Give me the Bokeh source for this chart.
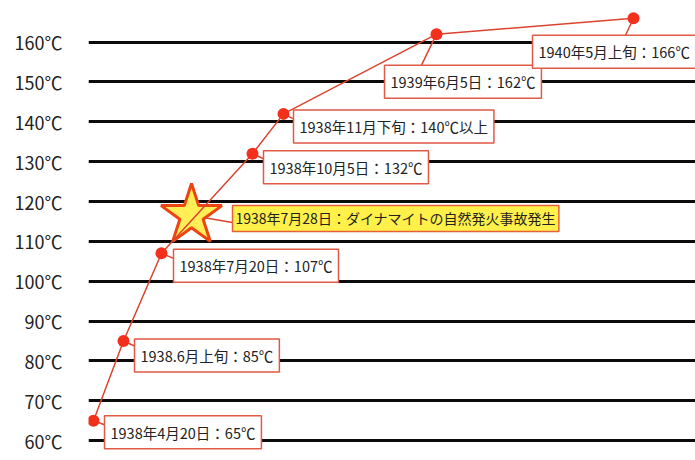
from bokeh.plotting import figure
from bokeh.models import Range1d, FixedTicker, ColumnDataSource
from bokeh.core.properties import value
from bokeh.embed import file_html
from bokeh.resources import INLINE

# ---- data ----
labels = [
    "1938年4月20日：65℃",
    "1938.6月上旬：85℃",
    "1938年7月20日：107℃",
    "1938年10月5日：132℃",
    "1938年11月下旬：140℃以上",
    "1939年6月5日：162℃",
    "1940年5月上旬：166℃",
]
temps = [65, 85, 107, 132, 142, 162, 166]
x_pos = [5, 35, 73, 164, 195, 348, 545]          # schematic horizontal position

star_label = ["1938年7月28日：ダイナマイトの自然発火事故発生"]
star_x = [103]
star_temp = [116.5]

tick_values = [60, 70, 80, 90, 100, 110, 120, 130, 140, 150, 160]
tick_labels = ["60℃", "70℃", "80℃", "90℃", "100℃", "110℃", "120℃",
               "130℃", "140℃", "150℃", "160℃"]

# ---- layout / style ----
FONT = "Noto Sans CJK JP"
W, H = 695, 460
LEFT = 88
Y0, Y1 = 55.02, 170.45
PX_PER_DEG = H / (Y1 - Y0)

# label box offsets (px, screen; y down) relative to each point
lab_dx = [11, 11, 12, 11, 10, -52, -101]
lab_dy = [-5, -2, -4, -3, -4, 31, 17]
# callout tails (px, screen; y down)
tail_dx = [11, 11, 12, 11, 10, -15, -8]
tail_dy = [4, 5, 5, 5, 5, 31, 17]

p = figure(width=W, height=H, output_backend="svg", toolbar_location=None,
           x_range=Range1d(0, W - LEFT), y_range=Range1d(Y0, Y1),
           x_axis_location=None,
           min_border_left=LEFT, min_border_right=0,
           min_border_top=0, min_border_bottom=0)
p.outline_line_color = None
p.background_fill_color = "white"
p.border_fill_color = "white"
p.xgrid.visible = False

p.yaxis.ticker = FixedTicker(ticks=tick_values)
p.yaxis.major_label_overrides = {v: s for v, s in zip(tick_values, tick_labels)}
p.yaxis.axis_line_color = None
p.yaxis.major_tick_line_color = None
p.yaxis.minor_tick_line_color = None
p.yaxis.major_tick_out = 0
p.yaxis.major_label_text_font = FONT
p.yaxis.major_label_text_font_size = "18px"
p.yaxis.major_label_text_color = "#222222"
p.yaxis.major_label_standoff = 26

p.ygrid.ticker = FixedTicker(ticks=tick_values)
p.ygrid.grid_line_color = "#0b0b0b"
p.ygrid.grid_line_width = 3

src = ColumnDataSource(dict(
    x=x_pos, t=temps, label=labels, dx=lab_dx, dy=lab_dy,
    x1=[x + d for x, d in zip(x_pos, tail_dx)],
    t1=[t - d / PX_PER_DEG for t, d in zip(temps, tail_dy)],
))

# star marker
star_src = ColumnDataSource(dict(
    x=star_x, t=star_temp, label=star_label,
    x1=[star_x[0] + 41], t1=[star_temp[0] - 7 / PX_PER_DEG],
))
p.segment("x", "t", "x1", "t1", source=star_src, line_color="#dc4430", line_width=1.5)
p.scatter("x", "t", source=star_src, marker="star", size=64,
          fill_color="#ffee55", line_color="#ee4411", line_width=3)

# temperature line
p.line("x", "t", source=src, line_color="#dc4430", line_width=1.5)
p.segment("x", "t", "x1", "t1", source=src, line_color="#dc4430", line_width=1.5)
p.scatter("x", "t", source=src, size=12, fill_color="#f2301b", line_color=None)

# callout boxes
p.text("x", "t", text="label", source=src, x_offset="dx", y_offset="dy",
       anchor="top_left", text_font=value(FONT), text_font_size="14.5px",
       text_color="#222222", padding=6,
       background_fill_color="white", border_line_color="#e05a45",
       border_line_width=1.5)

p.text("x", "t", text="label", source=star_src, x_offset=41, y_offset=-10,
       anchor="top_left", text_font=value(FONT), text_font_size="14px",
       text_color="#222222", padding=3,
       background_fill_color="#fff04a", border_line_color="#e8603a",
       border_line_width=1.5)

open("out.html", "w").write(file_html(p, INLINE))
